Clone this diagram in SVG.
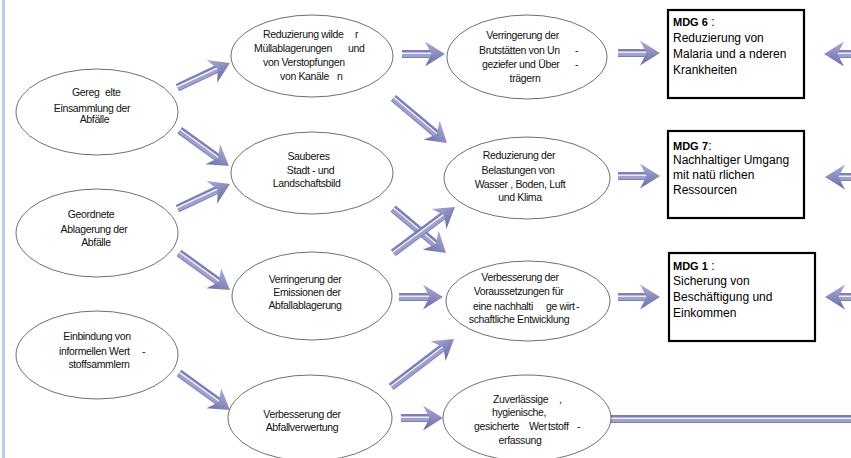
<svg xmlns="http://www.w3.org/2000/svg" width="851" height="458" viewBox="0 0 851 458">
<defs>
<linearGradient id="hg" gradientUnits="userSpaceOnUse" x1="0" y1="-12.5" x2="0" y2="12.5">
<stop offset="0" stop-color="#a9abd6"/><stop offset="1" stop-color="#6a6da7"/>
</linearGradient>
<path id="hd" d="M0,0 L-20,-12.5 L-13.5,0 L-20,12.5 Z" fill="url(#hg)"/>
<style>
.e{fill:#fff;stroke:#4a4a4a;stroke-width:0.8}
.b{fill:#fff;stroke:#000;stroke-width:2.2}
.t{font-family:"Liberation Sans",Arial,sans-serif;font-size:10.5px;letter-spacing:-0.35px;fill:#111}
.c{text-anchor:middle}
.m{font-family:"Liberation Sans",Arial,sans-serif;font-size:12px;fill:#000}
.bd{font-weight:bold;font-size:11px}
.s1{stroke:#7c7fb6;stroke-width:8;fill:none}
.s3{stroke:#9fa1cf;stroke-width:3;fill:none}
.s2{stroke:#f2f2fa;stroke-width:1.5;fill:none}
</style>
</defs>
<rect x="0" y="0" width="851" height="458" fill="#fff"/>
<rect x="2" y="0" width="3" height="458" fill="#b9cde8"/>

<g id="connectors">
<g transform="translate(230,63) rotate(-25)"><line class="s1" x1="-58" y1="0" x2="-13" y2="0"/><line class="s3" x1="-58" y1="1.5" x2="-13" y2="1.5"/><line class="s2" x1="-58" y1="-0.8" x2="-13" y2="-0.8"/><use href="#hd"/></g>
<g transform="translate(229,166) rotate(36)"><line class="s1" x1="-61" y1="0" x2="-13" y2="0"/><line class="s3" x1="-61" y1="1.5" x2="-13" y2="1.5"/><line class="s2" x1="-61" y1="-0.8" x2="-13" y2="-0.8"/><use href="#hd"/></g>
<g transform="translate(230,184) rotate(-25)"><line class="s1" x1="-58" y1="0" x2="-13" y2="0"/><line class="s3" x1="-58" y1="1.5" x2="-13" y2="1.5"/><line class="s2" x1="-58" y1="-0.8" x2="-13" y2="-0.8"/><use href="#hd"/></g>
<g transform="translate(230,290) rotate(36)"><line class="s1" x1="-63" y1="0" x2="-13" y2="0"/><line class="s3" x1="-63" y1="1.5" x2="-13" y2="1.5"/><line class="s2" x1="-63" y1="-0.8" x2="-13" y2="-0.8"/><use href="#hd"/></g>
<g transform="translate(230,410) rotate(36)"><line class="s1" x1="-63" y1="0" x2="-13" y2="0"/><line class="s3" x1="-63" y1="1.5" x2="-13" y2="1.5"/><line class="s2" x1="-63" y1="-0.8" x2="-13" y2="-0.8"/><use href="#hd"/></g>

<g transform="translate(445,54)"><line class="s1" x1="-43" y1="0" x2="-13" y2="0"/><line class="s3" x1="-43" y1="1.5" x2="-13" y2="1.5"/><line class="s2" x1="-43" y1="-0.8" x2="-13" y2="-0.8"/><use href="#hd"/></g>
<g transform="translate(447,143) rotate(40)"><line class="s1" x1="-70" y1="0" x2="-13" y2="0"/><line class="s3" x1="-70" y1="1.5" x2="-13" y2="1.5"/><line class="s2" x1="-70" y1="-0.8" x2="-13" y2="-0.8"/><use href="#hd"/></g>
<g transform="translate(446,253) rotate(40)"><line class="s1" x1="-69" y1="0" x2="-13" y2="0"/><line class="s3" x1="-69" y1="1.5" x2="-13" y2="1.5"/><line class="s2" x1="-69" y1="-0.8" x2="-13" y2="-0.8"/><use href="#hd"/></g>
<g transform="translate(455,207) rotate(-36.6)"><line class="s1" x1="-77" y1="0" x2="-13" y2="0"/><line class="s3" x1="-77" y1="1.5" x2="-13" y2="1.5"/><line class="s2" x1="-77" y1="-0.8" x2="-13" y2="-0.8"/><use href="#hd"/></g>
<g transform="translate(443,297)"><line class="s1" x1="-44" y1="0" x2="-13" y2="0"/><line class="s3" x1="-44" y1="1.5" x2="-13" y2="1.5"/><line class="s2" x1="-44" y1="-0.8" x2="-13" y2="-0.8"/><use href="#hd"/></g>
<g transform="translate(454,339) rotate(-37.3)"><line class="s1" x1="-79" y1="0" x2="-13" y2="0"/><line class="s3" x1="-79" y1="1.5" x2="-13" y2="1.5"/><line class="s2" x1="-79" y1="-0.8" x2="-13" y2="-0.8"/><use href="#hd"/></g>
<g transform="translate(443,418)"><line class="s1" x1="-42" y1="0" x2="-13" y2="0"/><line class="s3" x1="-42" y1="1.5" x2="-13" y2="1.5"/><line class="s2" x1="-42" y1="-0.8" x2="-13" y2="-0.8"/><use href="#hd"/></g>

<g transform="translate(660,53)"><line class="s1" x1="-42" y1="0" x2="-13" y2="0"/><line class="s3" x1="-42" y1="1.5" x2="-13" y2="1.5"/><line class="s2" x1="-42" y1="-0.8" x2="-13" y2="-0.8"/><use href="#hd"/></g>
<g transform="translate(660,176)"><line class="s1" x1="-42" y1="0" x2="-13" y2="0"/><line class="s3" x1="-42" y1="1.5" x2="-13" y2="1.5"/><line class="s2" x1="-42" y1="-0.8" x2="-13" y2="-0.8"/><use href="#hd"/></g>
<g transform="translate(660,297)"><line class="s1" x1="-42" y1="0" x2="-13" y2="0"/><line class="s3" x1="-42" y1="1.5" x2="-13" y2="1.5"/><line class="s2" x1="-42" y1="-0.8" x2="-13" y2="-0.8"/><use href="#hd"/></g>

<g transform="translate(824,54) scale(-1,1)"><line class="s1" x1="-35" y1="0" x2="-13" y2="0"/><line class="s3" x1="-35" y1="1.5" x2="-13" y2="1.5"/><line class="s2" x1="-35" y1="-0.8" x2="-13" y2="-0.8"/><use href="#hd"/></g>
<g transform="translate(825,177) scale(-1,1)"><line class="s1" x1="-35" y1="0" x2="-13" y2="0"/><line class="s3" x1="-35" y1="1.5" x2="-13" y2="1.5"/><line class="s2" x1="-35" y1="-0.8" x2="-13" y2="-0.8"/><use href="#hd"/></g>
<g transform="translate(825,297) scale(-1,1)"><line class="s1" x1="-35" y1="0" x2="-13" y2="0"/><line class="s3" x1="-35" y1="1.5" x2="-13" y2="1.5"/><line class="s2" x1="-35" y1="-0.8" x2="-13" y2="-0.8"/><use href="#hd"/></g>

<g><line class="s1" x1="610" y1="419" x2="851" y2="419"/><line class="s3" x1="610" y1="420.5" x2="851" y2="420.5"/><line class="s2" x1="610" y1="418.2" x2="851" y2="418.2"/></g>
</g>

<g id="n1"><ellipse class="e" cx="97" cy="112" rx="81" ry="43"/>
<text class="t"><tspan x="72" y="96">Gereg</tspan><tspan x="105" y="96">elte</tspan></text>
<text class="t c" x="92" y="112">Einsammlung der</text>
<text class="t c" x="94.5" y="123">Abfälle</text></g>

<g id="n2"><ellipse class="e" cx="97" cy="233" rx="81" ry="44"/>
<text class="t c" x="91" y="218">Geordnete</text>
<text class="t c" x="94" y="233">Ablagerung der</text>
<text class="t c" x="96" y="246">Abfälle</text></g>

<g id="n3"><ellipse class="e" cx="97" cy="355" rx="81" ry="44"/>
<text class="t c" x="97" y="340">Einbindung von</text>
<text class="t"><tspan x="59" y="355">informellen Wert</tspan><tspan x="142" y="355">-</tspan></text>
<text class="t c" x="99" y="368">stoffsammlern</text></g>

<g id="n4"><ellipse class="e" cx="312" cy="56" rx="81" ry="41"/>
<text class="t"><tspan x="263" y="38">Reduzierung wilde</tspan><tspan x="355" y="38">r</tspan></text>
<text class="t"><tspan x="254" y="52">Müllablagerungen</tspan><tspan x="348" y="52">und</tspan></text>
<text class="t" x="263" y="66">von Verstopfungen</text>
<text class="t"><tspan x="280" y="80">von Kanäle</tspan><tspan x="337" y="80">n</tspan></text></g>

<g id="n5"><ellipse class="e" cx="312" cy="173" rx="81" ry="41"/>
<text class="t c" x="308.5" y="160">Sauberes</text>
<text class="t c" x="310.5" y="174">Stadt - und</text>
<text class="t c" x="306.7" y="187">Landschaftsbild</text></g>

<g id="n6"><ellipse class="e" cx="312" cy="296" rx="80" ry="44"/>
<text class="t c" x="305" y="283">Verringerung der</text>
<text class="t c" x="307" y="296">Emissionen der</text>
<text class="t c" x="305" y="309">Abfallablagerung</text></g>

<g id="n7"><ellipse class="e" cx="310" cy="418" rx="82" ry="43"/>
<text class="t c" x="302" y="418">Verbesserung der</text>
<text class="t c" x="302" y="431">Abfallverwertung</text></g>

<g id="n8"><ellipse class="e" cx="527" cy="57" rx="80" ry="42"/>
<text class="t c" x="522.5" y="39">Verringerung der</text>
<text class="t"><tspan x="479" y="54">Brutstätten von Un</tspan><tspan x="575" y="54">-</tspan></text>
<text class="t"><tspan x="482" y="68">geziefer und Über</tspan><tspan x="575" y="68">-</tspan></text>
<text class="t c" x="525" y="82">trägern</text></g>

<g id="n9"><ellipse class="e" cx="527" cy="178" rx="83" ry="41"/>
<text class="t c" x="519" y="159">Reduzierung der</text>
<text class="t c" x="518" y="174">Belastungen von</text>
<text class="t c" x="520" y="188">Wasser , Boden, Luft</text>
<text class="t c" x="520" y="201">und Klima</text></g>

<g id="n10"><ellipse class="e" cx="528" cy="301" rx="82" ry="40"/>
<text class="t c" x="520" y="281">Verbesserung der</text>
<text class="t c" x="518.5" y="295">Voraussetzungen für</text>
<text class="t"><tspan x="473" y="310">eine nachhalti</tspan><tspan x="546" y="310">ge wirt</tspan><tspan x="576" y="310">-</tspan></text>
<text class="t c" x="519" y="323">schaftliche Entwicklung</text></g>

<g id="n11"><ellipse class="e" cx="527" cy="418" rx="84" ry="43"/>
<text class="t"><tspan x="493" y="403">Zuverlässige</tspan><tspan x="559" y="403">,</tspan></text>
<text class="t c" x="519" y="416">hygienische,</text>
<text class="t"><tspan x="474" y="430">gesicherte</tspan><tspan x="529" y="430">Wer</tspan><tspan x="548" y="430">tstoff</tspan><tspan x="577" y="430">-</tspan></text>
<text class="t c" x="520" y="444">erfassung</text></g>

<g id="mdg6"><rect class="b" x="668" y="10" width="136" height="88"/>
<text class="m" x="673" y="26"><tspan class="bd">MDG 6</tspan> :</text>
<text class="m" x="673" y="42">Reduzierung von</text>
<text class="m" x="673" y="57.5">Malaria und a nderen</text>
<text class="m" x="673" y="74">Krankheiten</text></g>

<g id="mdg7"><rect class="b" x="668" y="131" width="136" height="87"/>
<text class="m" y="150"><tspan class="bd" x="673">MDG</tspan><tspan class="bd" x="702">7</tspan>:</text>
<text class="m" x="673" y="164">Nachhaltiger Umgang</text>
<text class="m" x="673" y="179">mit natü rlichen</text>
<text class="m" x="673" y="194">Ressourcen</text></g>

<g id="mdg1"><rect class="b" x="669" y="253" width="146" height="88"/>
<text class="m" x="673" y="269.5"><tspan class="bd">MDG 1</tspan> :</text>
<text class="m" x="673" y="285">Sicherung von</text>
<text class="m" x="673" y="300.5">Beschäftigung und</text>
<text class="m" x="673" y="316.5">Einkommen</text></g>
</svg>
